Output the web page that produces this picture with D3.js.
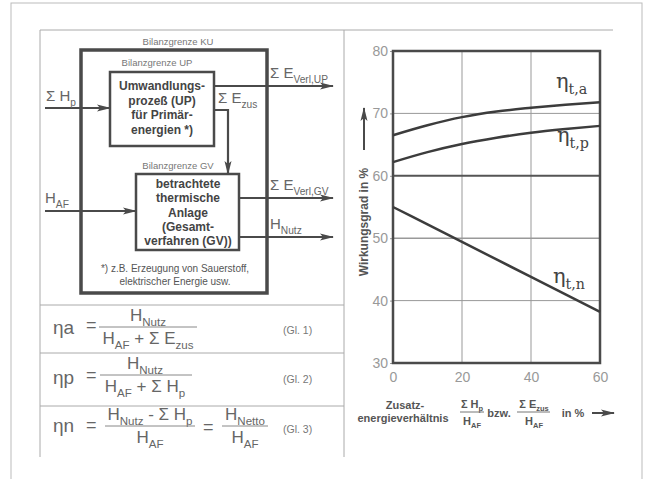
<!DOCTYPE html>
<html>
<head>
<meta charset="utf-8">
<script src="https://cdn.jsdelivr.net/npm/d3@7"></script>
<style>
  body { margin: 0; background: #fff; }
  svg { display: block; font-family: Arial, "Liberation Sans", sans-serif; }
</style>
</head>
<body>
<svg id="chart"></svg>
<script>
// data
const shares = [0, 10, 20, 30, 40, 50, 60];
const etaA = [66.5, 68.1, 69.4, 70.3, 70.9, 71.4, 71.8];
const etaP = [62.2, 63.8, 65.1, 66.1, 66.9, 67.5, 68.0];
const etaN = [55.0, 52.2, 49.4, 46.6, 43.8, 41.0, 38.2];
const xTicks = [0, 20, 40, 60];
const yTicks = [30, 40, 50, 60, 70, 80];
const curveNames = [['η', 't,a'], ['η', 't,p'], ['η', 't,n']];

const width = 648, height = 479;
const ink = '#4a4a4a';

const svg = d3.select('#chart')
  .attr('width', width)
  .attr('height', height);

svg.append('defs').append('marker')
  .attr('id', 'arr')
  .attr('viewBox', '0 0 14 8')
  .attr('refX', 13).attr('refY', 4)
  .attr('markerWidth', 14).attr('markerHeight', 8)
  .attr('markerUnits', 'userSpaceOnUse')
  .attr('orient', 'auto')
  .append('path')
  .attr('d', 'M0,0.5 L14,4 L0,7.5 L3,4 Z')
  .attr('fill', ink);

// text with subscripts: parts = [[text, isSub], ...]
function rich(g, x, y, parts, size, opts = {}) {
  const t = g.append('text')
    .attr('x', x).attr('y', y)
    .attr('font-size', size)
    .attr('fill', opts.fill || '#555')
    .attr('text-anchor', opts.anchor || 'start')
    .attr('font-weight', opts.weight || 'normal');
  if (opts.family) t.attr('font-family', opts.family);
  let down = false;
  parts.forEach(([s, sub]) => {
    const sp = t.append('tspan').text(s);
    if (sub && !down) { sp.attr('dy', size * 0.3).attr('font-size', size * 0.68); down = true; }
    else if (sub) { sp.attr('font-size', size * 0.68); }
    else if (down) { sp.attr('dy', -size * 0.3); down = false; }
  });
  return t;
}

function line(g, x1, y1, x2, y2, w, color, arrow) {
  const l = g.append('line')
    .attr('x1', x1).attr('y1', y1).attr('x2', x2).attr('y2', y2)
    .attr('stroke', color || ink).attr('stroke-width', w);
  if (arrow) l.attr('marker-end', 'url(#arr)');
  return l;
}

// frames
const frame = svg.append('g');
frame.append('rect').attr('x', 11).attr('y', 3).attr('width', 631).attr('height', 490)
  .attr('fill', 'none').attr('stroke', '#bbb');
line(frame, 40, 30, 40, 457, 1, '#aaa');
line(frame, 40, 30, 613, 30, 1, '#aaa');
line(frame, 344, 30, 344, 457, 1, '#aaa');
[305, 353, 406].forEach(y => line(frame, 40, y, 344, y, 1, '#aaa'));

// ---- balance diagram ----
const dg = svg.append('g');
dg.append('rect').attr('x', 81).attr('y', 50).attr('width', 186).attr('height', 243)
  .attr('fill', 'none').attr('stroke', ink).attr('stroke-width', 3.5);
dg.append('rect').attr('x', 110).attr('y', 72).attr('width', 104).attr('height', 74)
  .attr('fill', '#fff').attr('stroke', ink).attr('stroke-width', 2.5);
dg.append('rect').attr('x', 136).attr('y', 174).attr('width', 103).attr('height', 76)
  .attr('fill', '#fff').attr('stroke', ink).attr('stroke-width', 2.5);

const small = { fill: '#777', anchor: 'middle' };
rich(dg, 178, 45, [['Bilanzgrenze KU']], 9.5, small);
rich(dg, 157, 66, [['Bilanzgrenze UP']], 9.5, small);
rich(dg, 178, 169, [['Bilanzgrenze GV']], 9.5, small);

const upLines = ['Umwandlungs-', 'prozeß (UP)', 'für Primär-', 'energien *)'];
upLines.forEach((s, i) => rich(dg, 162, 90 + i * 14.5, [[s]], 12, { fill: '#444', anchor: 'middle', weight: 'bold' }));
const gvLines = ['betrachtete', 'thermische', 'Anlage', '(Gesamt-', 'verfahren (GV))'];
gvLines.forEach((s, i) => rich(dg, 188, 188 + i * 14.3, [[s]], 12, { fill: '#444', anchor: 'middle', weight: 'bold' }));

rich(dg, 175, 272, [['*) z.B. Erzeugung von Sauerstoff,']], 10, { fill: '#555', anchor: 'middle' });
rich(dg, 175, 285, [['elektrischer Energie usw.']], 10, { fill: '#555', anchor: 'middle' });

// flows
line(dg, 45, 108, 110, 108, 2.2, ink, true);
line(dg, 45, 211, 136, 211, 2.2, ink, true);
line(dg, 214, 86, 333, 86, 2.2, ink, true);
dg.append('path').attr('d', 'M214,110 H228 V174').attr('fill', 'none')
  .attr('stroke', ink).attr('stroke-width', 2.2).attr('marker-end', 'url(#arr)');
line(dg, 239, 198, 333, 198, 2.2, ink, true);
line(dg, 239, 237, 333, 237, 2.2, ink, true);

rich(dg, 46, 101, [['Σ H'], ['p', 1]], 15, { fill: '#666' });
rich(dg, 45, 203, [['H'], ['AF', 1]], 15, { fill: '#666' });
rich(dg, 270, 78, [['Σ E'], ['Verl,UP', 1]], 15, { fill: '#666' });
rich(dg, 218, 103, [['Σ E'], ['zus', 1]], 15, { fill: '#666' });
rich(dg, 270, 190, [['Σ E'], ['Verl,GV', 1]], 15, { fill: '#666' });
rich(dg, 270, 229, [['H'], ['Nutz', 1]], 15, { fill: '#666' });

// ---- formulas ----
const fg = svg.append('g');
const fcol = '#666';
function frac(cx, yLine, x1, x2, num, den) {
  rich(fg, cx, yLine - 6, num, 17, { fill: fcol, anchor: 'middle' });
  line(fg, x1, yLine, x2, yLine, 1, '#888');
  rich(fg, cx, yLine + 17, den, 17, { fill: fcol, anchor: 'middle' });
}
rich(fg, 53, 334, [['η'], ['a']], 19, { fill: fcol });
rich(fg, 86, 331, [['=']], 18, { fill: fcol });
frac(148, 327, 99, 197, [['H'], ['Nutz', 1]], [['H'], ['AF', 1], [' + Σ E'], ['zus', 1]]);
rich(fg, 283, 334, [['(Gl. 1)']], 10.5, { fill: '#777' });

rich(fg, 53, 384, [['η'], ['p']], 19, { fill: fcol });
rich(fg, 86, 381, [['=']], 18, { fill: fcol });
frac(145, 375, 100, 192, [['H'], ['Nutz', 1]], [['H'], ['AF', 1], [' + Σ H'], ['p', 1]]);
rich(fg, 283, 383, [['(Gl. 2)']], 10.5, { fill: '#777' });

rich(fg, 53, 432, [['η'], ['n']], 19, { fill: fcol });
rich(fg, 86, 431, [['=']], 18, { fill: fcol });
frac(150, 426, 105, 195, [['H'], ['Nutz', 1], [' - Σ H'], ['p', 1]], [['H'], ['AF', 1]]);
rich(fg, 203, 433, [['=']], 18, { fill: fcol });
frac(245, 426, 222, 268, [['H'], ['Netto', 1]], [['H'], ['AF', 1]]);
rich(fg, 283, 433, [['(Gl. 3)']], 10.5, { fill: '#777' });

// ---- chart ----
const x = d3.scaleLinear().domain([0, 60]).range([393, 600]);
const y = d3.scaleLinear().domain([30, 80]).range([363, 51]);
const cg = svg.append('g');

cg.selectAll('.vgrid').data(xTicks.slice(1, -1)).enter().append('line')
  .attr('x1', d => x(d)).attr('x2', d => x(d)).attr('y1', y(80)).attr('y2', y(30))
  .attr('stroke', '#999').attr('stroke-width', 1);
cg.selectAll('.hgrid').data(yTicks.slice(1, -1)).enter().append('line')
  .attr('x1', x(0)).attr('x2', x(60)).attr('y1', d => y(d)).attr('y2', d => y(d))
  .attr('stroke', d => d === 60 ? '#555' : '#999')
  .attr('stroke-width', d => d === 60 ? 2 : (d === 50 ? 1.5 : 1));

const yAxis = cg.append('g').attr('transform', `translate(${x(0)},0)`)
  .call(d3.axisLeft(y).tickValues(yTicks).tickSize(3).tickPadding(2));
const xAxis = cg.append('g').attr('transform', `translate(0,${y(30)})`)
  .call(d3.axisBottom(x).tickValues(xTicks).tickSize(0).tickPadding(9));
[yAxis, xAxis].forEach(a => {
  a.select('.domain').remove();
  a.selectAll('line').attr('stroke', '#999');
  a.selectAll('text').attr('font-size', 14).attr('fill', '#999')
    .attr('font-family', 'Arial, "Liberation Sans", sans-serif');
});

cg.append('rect').attr('x', x(0)).attr('y', y(80))
  .attr('width', x(60) - x(0)).attr('height', y(30) - y(80))
  .attr('fill', 'none').attr('stroke', ink).attr('stroke-width', 2.5);

const lineGen = d3.line().x((d, i) => x(shares[i])).y(d => y(d)).curve(d3.curveMonotoneX);
[etaA, etaP, etaN].forEach(s => {
  cg.append('path').datum(s).attr('d', lineGen)
    .attr('fill', 'none').attr('stroke', '#3c3c3c').attr('stroke-width', 2.5);
});

const labelPos = [[556, 88], [557, 142], [553, 283]];
curveNames.forEach(([g, sub], i) => {
  rich(cg, labelPos[i][0], labelPos[i][1], [[g], [sub, 1]], 21,
    { fill: '#444', family: '"DejaVu Serif", "Liberation Serif", serif' });
});

// axis titles
cg.append('text').attr('transform', 'translate(368,222) rotate(-90)')
  .attr('text-anchor', 'middle').attr('font-size', 12).attr('font-weight', 'bold')
  .attr('fill', '#555').text('Wirkungsgrad in %');
line(cg, 364, 150, 364, 108, 2, ink, true);

const tb = { fill: '#555', weight: 'bold', anchor: 'middle' };
rich(cg, 405, 409, [['Zusatz-']], 11, tb);
rich(cg, 403, 422, [['energieverhältnis']], 11, tb);
rich(cg, 472, 408, [['Σ H'], ['p', 1]], 11, tb);
line(cg, 460, 412, 484, 412, 1, '#777');
rich(cg, 472, 425, [['H'], ['AF', 1]], 11, tb);
rich(cg, 499, 417, [['bzw.']], 11, tb);
rich(cg, 534, 408, [['Σ E'], ['zus', 1]], 11, tb);
line(cg, 517, 412, 550, 412, 1, '#777');
rich(cg, 534, 425, [['H'], ['AF', 1]], 11, tb);
rich(cg, 573, 417, [['in %']], 11, tb);
line(cg, 592, 413, 614, 413, 2, ink, true);
</script>
</body>
</html>
